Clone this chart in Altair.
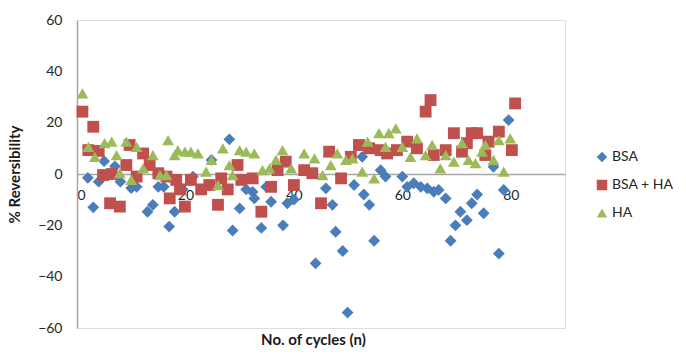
import altair as alt
import pandas as pd

series_names = ["BSA", "BSA + HA", "HA"]

bsa_x = [2, 3, 4, 5, 7, 8, 10, 11, 13, 14, 15, 16, 17, 18, 19.5, 21.4, 24.8, 28.1, 28.7, 30,
         31.2, 32.4, 32.7, 34, 34.9, 35.8, 38, 38.8, 40, 44, 45.9, 47.1, 47.7, 49, 49.9, 51.1,
         52.6, 52.9, 53.9, 54.8, 56, 56.9, 60, 60.9, 62.1, 63.4, 64.6, 65.8, 66.7, 68, 68.9,
         69.8, 70.7, 71.9, 72.8, 73.8, 75, 76.8, 77.8, 78.7, 79.6]
bsa_y = [-1.5, -13, -3, 5, 3, -3, -5.5, -5, -14.7, -12, -5, -5, -20.5, -14.7, -6, -1, 5.5, 13.5,
         -22, -13.4, -6, -7, -9.5, -21, -5, -10.8, -20, -11.4, -10, -34.8, -5.6, -12, -22.5, -30,
         -54, -4.3, 6.7, -8, -12, -26, 1.5, -1, -1, -5, -3.6, -5, -5.6, -6.9, -6.2, -9.5, -26,
         -20, -14.7, -18, -11.4, -8, -15.3, 2.8, -31, -6.2, 21]

bsaha_x = [1, 2.1, 3, 4, 4.8, 6.1, 6.4, 7.9, 9.1, 9.7, 11, 12.2, 13.4, 15, 16.5, 17.1, 18.3, 19,
           19.9, 21, 22.9, 24.4, 26, 26.6, 27.8, 29.6, 30.3, 32.4, 34, 35.8, 37, 38.5, 40, 41.9,
           43.4, 45, 46.5, 48.7, 50.5, 52, 53.9, 56, 57.2, 59, 60.9, 62.7, 64.3, 65.2, 65.8, 68,
           69.5, 71, 71.9, 72.8, 73.8, 75.3, 75.9, 77.8, 80.2, 80.8]
bsaha_y = [24.3, 9.3, 18.4, 9, -0.4, -11.4, 0, -12.7, 3.5, 11.3, -1, 8, 3.5, 0.3, -1, -9.5, -2.3,
           -6, -12.7, -2.3, -6, -4.3, -12, -1.7, -6, 3.5, -2.3, -1.7, -14.7, -5, 1.5, 4.8, -4.3,
           1.5, 0.3, -11.4, 8.7, -1.7, 6.7, 11.3, 10, 9.3, 8, 9.3, 12.6, 10, 24.3, 28.8, 7.4,
           9.3, 15.9, 8.7, 12, 15.9, 15.9, 7.4, 12.6, 16.5, 9.3, 27.5]

ha_x = [1, 2.1, 3.3, 5.1, 6.4, 7.3, 7.9, 9.1, 10, 11, 12.2, 14, 15.3, 16.5, 16.8, 18, 18.6, 19.9,
        21, 22.3, 23.8, 24.8, 26, 26.9, 28.1, 28.7, 30, 31.2, 32.7, 34.2, 35.5, 36.7, 37.9, 39.5,
        41.9, 43.8, 45.3, 46.8, 48, 49.6, 50.8, 52.6, 53.6, 54.8, 55.7, 56.9, 57.5, 58.8, 60,
        61.5, 62.7, 64.3, 65.5, 67, 68, 69.5, 71, 72.2, 73.5, 74.7, 75.3, 76.8, 77.8, 78.7, 79.9]
ha_y = [31.4, 10.6, 6.7, 12, 12.6, 7.4, 0.3, 12.6, -2.3, 10.6, 2.2, 7.4, -0.4, -0.4, 13.2, 7.4,
        9.3, 8.7, 8.7, 8, 0.9, 5.5, -4.3, 10, 3.5, -0.4, 9.3, 8.7, 8, 1.5, 2.2, 5.5, 9.3, 2.2,
        8, 6.1, -0.4, 3.5, 8, 5.5, 6.1, 0.9, 12.6, -1.7, 15.9, 10.6, 15.9, 17.8, 10.6, 6.7,
        13.9, 7.4, 11.3, 2.2, 7.4, 4.8, 12, 5.5, 4.2, 8.7, 11.3, 5.5, 13.2, 0.9, 13.9]

x_ticks = [0, 20, 40, 60, 80]
y_ticks = [-60, -40, -20, 0, 20, 40, 60]

frames = []
for name, xs, ys in [("BSA", bsa_x, bsa_y), ("BSA + HA", bsaha_x, bsaha_y), ("HA", ha_x, ha_y)]:
    frames.append(pd.DataFrame({"cycle": xs, "rev": ys, "series": name}))
df = pd.concat(frames, ignore_index=True)
df["order"] = range(len(df))

FONT = "Lato"
W, H = 488, 308

legend_cfg = dict(title=None, orient="none", legendX=518, legendY=130,
                  labelFont=FONT, labelFontSize=14, labelColor="#262626",
                  symbolSize=110, rowPadding=14, labelOffset=3, symbolStrokeWidth=0)

chart = alt.Chart(df).mark_point(filled=True, opacity=1, strokeWidth=0).encode(
    x=alt.X("cycle:Q",
            scale=alt.Scale(domain=[0, 90], nice=False, zero=False),
            axis=alt.Axis(values=x_ticks, title="No. of cycles (n)", offset=-H / 2,
                          grid=False, ticks=False, domainColor="#A6A6A6", domainWidth=1.5,
                          labelPadding=14, labelFontSize=14, labelColor="#262626",
                          labelFont=FONT, titleFont=FONT, titleFontSize=15,
                          titleFontWeight="bold", titleColor="#1a1a1a",
                          titleY=158, titleX=W / 2 - 8)),
    y=alt.Y("rev:Q",
            scale=alt.Scale(domain=[-60, 60], nice=False),
            axis=alt.Axis(values=y_ticks, title="% Reversibility", grid=False, ticks=False,
                          domainColor="#A6A6A6", domainWidth=1.5, labelPadding=15,
                          labelFontSize=14, labelColor="#262626", labelFont=FONT,
                          titleFont=FONT, titleFontSize=15, titleFontWeight="bold",
                          titleColor="#1a1a1a", titleX=-55, titleY=H / 2)),
    color=alt.Color("series:N",
                    scale=alt.Scale(domain=series_names,
                                    range=["#4A7EBB", "#C0504D", "#9BBB59"]),
                    legend=alt.Legend(**legend_cfg)),
    shape=alt.Shape("series:N",
                    scale=alt.Scale(domain=series_names,
                                    range=["diamond", "square", "triangle-up"]),
                    legend=alt.Legend(**legend_cfg)),
    size=alt.value(140),
    order=alt.Order("order:Q"),
).properties(
    width=W, height=H,
    padding={"left": 69, "top": 12, "right": 110, "bottom": 20},
    autosize=alt.AutoSizeParams(type="none"),
).configure_view(stroke=None).configure(background="white")

chart.save("out.html", embed_options={"renderer": "svg", "actions": False})
